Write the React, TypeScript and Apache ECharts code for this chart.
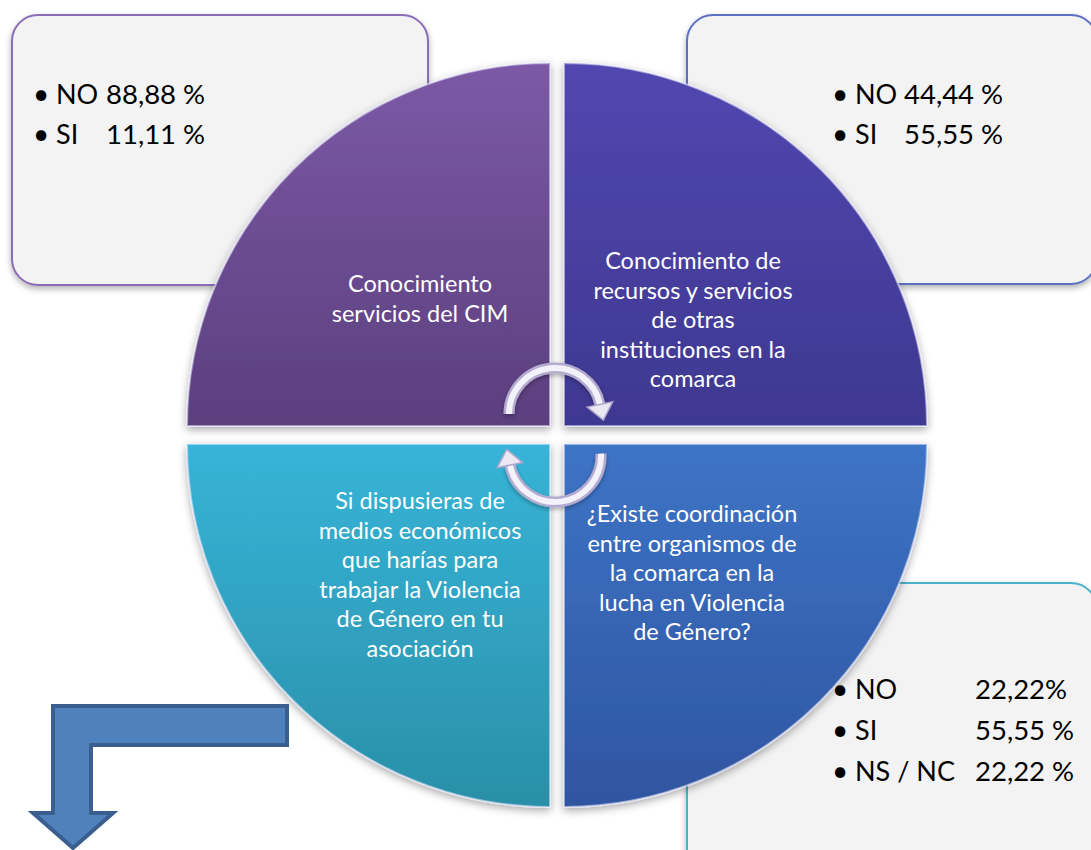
import React, { useEffect, useRef } from "react";
import * as echarts from "echarts";

// ---- data ----
const quadrantTitles: string[] = [
  "Conocimiento\nservicios del CIM",
  "Conocimiento de\nrecursos y servicios\nde otras\ninstituciones en la\ncomarca",
  "¿Existe coordinación\nentre organismos de\nla comarca en la\nlucha en Violencia\nde Género?",
  "Si dispusieras de\nmedios económicos\nque harías para\ntrabajar la Violencia\nde Género en tu\nasociación",
];
const quadrantShare: number[] = [1, 1, 1, 1];

const cimLabels = ["NO", "SI"];
const cimValues = ["88,88 %", "11,11 %"];
const otrasLabels = ["NO", "SI"];
const otrasValues = ["44,44 %", "55,55 %"];
const coordLabels = ["NO", "SI", "NS / NC"];
const coordValues = ["22,22%", "55,55 %", "22,22 %"];

const FONT = "Lato, 'Open Sans', sans-serif";

export default function App() {
  const ref = useRef<HTMLDivElement>(null);

  useEffect(() => {
    if (!ref.current) return;
    const chart = echarts.init(ref.current, undefined, { renderer: "svg" });

    const R = 363;
    const quads = [
      { center: [550, 426], start: 180, top: "#7c59a6", bottom: "#5b3f7e", tx: 420, ty: 298 },
      { center: [564, 426], start: 90, top: "#5147b0", bottom: "#3e3890", tx: 693, ty: 319 },
      { center: [564, 444], start: 0, top: "#3d74c6", bottom: "#2f55a0", tx: 692, ty: 572 },
      { center: [550, 444], start: 270, top: "#37b4d8", bottom: "#2a8fa8", tx: 420, ty: 574 },
    ];

    const series: any[] = quads.map((q, i) => ({
      type: "pie",
      silent: true,
      z: 2,
      center: q.center,
      radius: [0, R],
      startAngle: q.start,
      clockwise: true,
      label: { show: false },
      labelLine: { show: false },
      emphasis: { disabled: true },
      data: [
        {
          value: quadrantShare[i],
          name: quadrantTitles[i],
          itemStyle: {
            color: new echarts.graphic.LinearGradient(0, 0, 0, 1, [
              { offset: 0, color: q.top },
              { offset: 1, color: q.bottom },
            ]),
            borderColor: "rgba(235,235,255,0.55)",
            borderWidth: 2,
            shadowBlur: 8,
            shadowColor: "rgba(0,0,0,0.35)",
            shadowOffsetY: 3,
          },
        },
        {
          value: quadrantShare[i] * 3,
          name: "rest" + i,
          itemStyle: { color: "rgba(0,0,0,0)", borderWidth: 0 },
        },
      ],
    }));

    const graphics: any[] = [];

    // boxes
    const boxes = [
      { x: 12, y: 15, w: 416, h: 270, stroke: "#8b6cb8" },
      { x: 687, y: 15, w: 410, h: 269, stroke: "#5b70c2" },
      { x: 687, y: 583, w: 410, h: 300, stroke: "#4ab3cc" },
    ];
    boxes.forEach((b) =>
      graphics.push({
        type: "rect",
        z: 0,
        shape: { x: b.x, y: b.y, width: b.w, height: b.h, r: 26 },
        style: {
          fill: "#f3f3f3",
          stroke: b.stroke,
          lineWidth: 2,
          shadowBlur: 6,
          shadowColor: "rgba(0,0,0,0.3)",
          shadowOffsetY: 3,
        },
      })
    );

    // bullet lists
    const lists = [
      { labels: cimLabels, values: cimValues, x: 33, vx: 106, y: 93, gap: 40 },
      { labels: otrasLabels, values: otrasValues, x: 832, vx: 904, y: 93, gap: 40 },
      { labels: coordLabels, values: coordValues, x: 832, vx: 975, y: 688, gap: 41 },
    ];
    lists.forEach((l) => {
      l.labels.forEach((lab, i) => {
        const y = l.y + i * l.gap;
        graphics.push({
          type: "text",
          z: 20,
          x: l.x,
          y: y,
          style: { text: "•", font: `28px ${FONT}`, fill: "#000", verticalAlign: "middle" },
        });
        graphics.push({
          type: "text",
          z: 20,
          x: l.x + 23,
          y: y,
          style: { text: lab, font: `27px ${FONT}`, fill: "#000", verticalAlign: "middle" },
        });
        graphics.push({
          type: "text",
          z: 20,
          x: l.vx,
          y: y,
          style: { text: l.values[i], font: `27.5px ${FONT}`, fill: "#000", verticalAlign: "middle" },
        });
      });
    });

    // quadrant titles
    quads.forEach((q, i) =>
      graphics.push({
        type: "text",
        z: 20,
        x: q.tx,
        y: q.ty,
        style: {
          text: quadrantTitles[i],
          font: `23.5px ${FONT}`,
          fill: "#ffffff",
          align: "center",
          verticalAlign: "middle",
          lineHeight: 29.5,
        },
      })
    );

    // circular arrows
    const head = (cx: number, cy: number, r: number, th: number) => {
      const bx = cx + r * Math.cos(th);
      const by = cy + r * Math.sin(th);
      const tx = -Math.sin(th), ty = Math.cos(th);
      const nx = Math.cos(th), ny = Math.sin(th);
      return [
        [bx + nx * 13, by + ny * 13],
        [bx + tx * 16, by + ty * 16],
        [bx - nx * 13, by - ny * 13],
      ];
    };
    const arcs = [
      { cx: 555, cy: 414, r: 46, s: Math.PI, e: 2 * Math.PI - 0.21 },
      { cx: 555, cy: 456, r: 46, s: -0.05, e: Math.PI - 0.2 },
    ];
    arcs.forEach((a) => {
      graphics.push({
        type: "arc",
        z: 30,
        shape: { cx: a.cx, cy: a.cy, r: a.r, startAngle: a.s, endAngle: a.e, clockwise: true },
        style: {
          stroke: "#b3abd0",
          lineWidth: 11,
          fill: null,
          shadowBlur: 4,
          shadowColor: "rgba(0,0,0,0.3)",
          shadowOffsetY: 2,
        },
      });
      graphics.push({
        type: "arc",
        z: 31,
        shape: { cx: a.cx, cy: a.cy, r: a.r, startAngle: a.s, endAngle: a.e, clockwise: true },
        style: { stroke: "#f3f1f9", lineWidth: 6, fill: null },
      });
      graphics.push({
        type: "polygon",
        z: 31,
        shape: { points: head(a.cx, a.cy, a.r, a.e) },
        style: { fill: "#ebe8f4", stroke: "#aea6cc", lineWidth: 1.5 },
      });
    });

    // bent arrow
    graphics.push({
      type: "polygon",
      z: 5,
      shape: {
        points: [
          [53, 706],
          [287, 706],
          [287, 745],
          [91, 745],
          [91, 813],
          [113, 813],
          [73, 848],
          [33, 813],
          [53, 813],
        ],
      },
      style: { fill: "#4f81bd", stroke: "#3a5f8f", lineWidth: 4, lineJoin: "miter" },
    });

    chart.setOption({
      animation: false,
      backgroundColor: "#ffffff",
      series,
      graphic: { elements: graphics },
    });

    return () => chart.dispose();
  }, []);

  return (
    <div
      ref={ref}
      style={{ position: "fixed", left: 0, top: 0, width: 1091, height: 850 }}
    />
  );
}
